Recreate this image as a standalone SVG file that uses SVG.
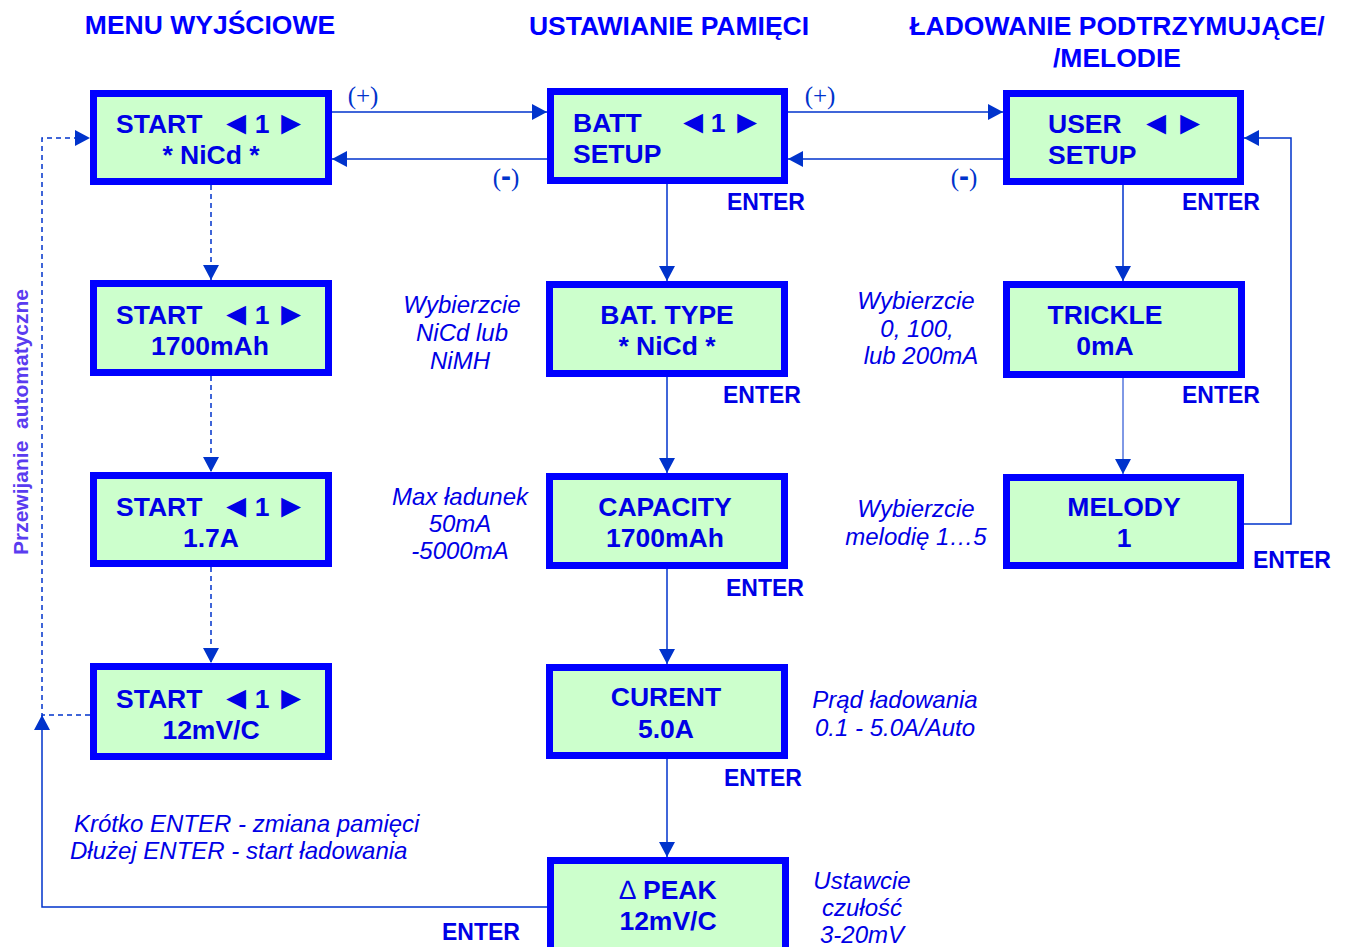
<svg xmlns="http://www.w3.org/2000/svg" width="1348" height="947" viewBox="0 0 1348 947">
<style>
.box{fill:#CCFFCC;stroke:#0000FF;stroke-width:7}
.bt{font-family:"Liberation Sans",Arial,sans-serif;font-weight:bold;font-size:26.5px;fill:#0000E6}
.tri{font-size:33px;font-weight:normal}
.c{text-anchor:middle}
.hd{font-family:"Liberation Sans",Arial,sans-serif;font-weight:bold;font-size:26.5px;fill:#0000FF;text-anchor:middle}
.en{font-family:"Liberation Sans",Arial,sans-serif;font-weight:bold;font-size:23px;fill:#0000E6;text-anchor:middle}
.it{font-family:"Liberation Sans",Arial,sans-serif;font-style:italic;font-size:24px;fill:#0000E6;text-anchor:middle}
.pm{font-family:"Liberation Serif","Times New Roman",serif;font-size:25px;fill:#0033CC;text-anchor:middle}
.ln{fill:none;stroke:#0033CC;stroke-width:1.5}
.dash{stroke-dasharray:5,4}
</style>
<defs>
<marker id="ah" markerUnits="userSpaceOnUse" markerWidth="16" markerHeight="16" viewBox="0 0 16 16" refX="15" refY="8" orient="auto">
<path d="M0,0 L15,8 L0,16 Z" fill="#0033CC"/>
</marker>
</defs>

<g id="headers">
<text class="hd" x="210" y="34">MENU WYJŚCIOWE</text>
<text class="hd" x="669" y="35">USTAWIANIE PAMIĘCI</text>
<text class="hd" x="1117" y="35">ŁADOWANIE PODTRZYMUJĄCE/</text>
<text class="hd" x="1117" y="67">/MELODIE</text>
</g>

<g id="connectors">
<path class="ln" d="M332,112 H547" marker-end="url(#ah)"/>
<path class="ln" d="M547,159 H332" marker-end="url(#ah)"/>
<path class="ln" d="M788,112 H1003" marker-end="url(#ah)"/>
<path class="ln" d="M1003,159 H788" marker-end="url(#ah)"/>
<path class="ln dash" d="M211,185 V280" marker-end="url(#ah)"/>
<path class="ln dash" d="M211,376 V472" marker-end="url(#ah)"/>
<path class="ln dash" d="M211,567 V663" marker-end="url(#ah)"/>
<path class="ln dash" d="M90,715 H42 V138 H90" marker-end="url(#ah)"/>
<path class="ln" d="M547,907 H42 V715" marker-end="url(#ah)"/>
<path class="ln" d="M667,184 V281" marker-end="url(#ah)"/>
<path class="ln" d="M667,377 V473" marker-end="url(#ah)"/>
<path class="ln" d="M667,569 V664" marker-end="url(#ah)"/>
<path class="ln" d="M667,759 V857" marker-end="url(#ah)"/>
<path class="ln" d="M1123,185 V281" marker-end="url(#ah)"/>
<path class="ln" style="stroke-width:1" d="M1123,378 V474" marker-end="url(#ah)"/>
<path class="ln" d="M1244,524 H1291 V138 H1244" marker-end="url(#ah)"/>
<text class="pm" x="363" y="104">(+)</text>
<text class="pm" x="820" y="104">(+)</text>
<text class="pm" x="506" y="186">(<tspan font-family="Liberation Sans,Arial,sans-serif" font-weight="bold" font-size="30">-</tspan>)</text>
<text class="pm" x="964" y="186">(<tspan font-family="Liberation Sans,Arial,sans-serif" font-weight="bold" font-size="30">-</tspan>)</text>
<text class="en" x="766" y="210">ENTER</text>
<text class="en" x="762" y="403">ENTER</text>
<text class="en" x="765" y="596">ENTER</text>
<text class="en" x="763" y="786">ENTER</text>
<text class="en" x="481" y="940">ENTER</text>
<text class="en" x="1221" y="210">ENTER</text>
<text class="en" x="1221" y="403">ENTER</text>
<text class="en" x="1292" y="568">ENTER</text>
<text transform="translate(28,422) rotate(-90)" text-anchor="middle" font-family="Liberation Sans,Arial,sans-serif" font-weight="bold" font-size="21" fill="#5A3CF0" xml:space="preserve">Przewijanie  automatyczne</text>
</g>

<g id="start-nicd">
<rect class="box" x="93.5" y="93.5" width="235" height="88"/>
<text class="bt"><tspan x="116" y="133">START</tspan><tspan class="tri c" x="236" y="133.5">◄</tspan><tspan class="c" x="262" y="133">1</tspan><tspan class="tri c" x="291" y="133.5">►</tspan></text>
<text class="bt c" x="211" y="164">* NiCd *</text>
</g>
<g id="start-1700">
<rect class="box" x="93.5" y="283.5" width="235" height="89"/>
<text class="bt"><tspan x="116" y="324">START</tspan><tspan class="tri c" x="236" y="324.5">◄</tspan><tspan class="c" x="262" y="324">1</tspan><tspan class="tri c" x="291" y="324.5">►</tspan></text>
<text class="bt c" x="210" y="355">1700mAh</text>
</g>
<g id="start-17a">
<rect class="box" x="93.5" y="475.5" width="235" height="88"/>
<text class="bt"><tspan x="116" y="516">START</tspan><tspan class="tri c" x="236" y="516.5">◄</tspan><tspan class="c" x="262" y="516">1</tspan><tspan class="tri c" x="291" y="516.5">►</tspan></text>
<text class="bt c" x="211" y="547">1.7A</text>
</g>
<g id="start-12mv">
<rect class="box" x="93.5" y="666.5" width="235" height="90"/>
<text class="bt"><tspan x="116" y="708">START</tspan><tspan class="tri c" x="236" y="708.5">◄</tspan><tspan class="c" x="262" y="708">1</tspan><tspan class="tri c" x="291" y="708.5">►</tspan></text>
<text class="bt c" x="211" y="739">12mV/C</text>
</g>

<g id="batt-setup">
<rect class="box" x="550.5" y="91.5" width="234" height="89"/>
<text class="bt"><tspan x="573" y="132">BATT</tspan><tspan class="tri c" x="693" y="132.5">◄</tspan><tspan class="c" x="718" y="132">1</tspan><tspan class="tri c" x="747" y="132.5">►</tspan></text>
<text class="bt" x="573" y="163">SETUP</text>
</g>
<g id="bat-type">
<rect class="box" x="549.5" y="284.5" width="235" height="89"/>
<text class="bt c" x="667" y="324">BAT. TYPE</text>
<text class="bt c" x="667" y="355">* NiCd *</text>
</g>
<g id="capacity">
<rect class="box" x="549.5" y="476.5" width="235" height="89"/>
<text class="bt c" x="665" y="516">CAPACITY</text>
<text class="bt c" x="665" y="547">1700mAh</text>
</g>
<g id="curent">
<rect class="box" x="549.5" y="667.5" width="235" height="88"/>
<text class="bt c" x="666" y="706">CURENT</text>
<text class="bt c" x="666" y="738">5.0A</text>
</g>
<g id="peak">
<rect class="box" x="550.5" y="860.5" width="235" height="90"/>
<text class="bt c" x="668" y="899"><tspan font-weight="normal">∆</tspan> PEAK</text>
<text class="bt c" x="668" y="930">12mV/C</text>
</g>

<g id="user-setup">
<rect class="box" x="1006.5" y="93.5" width="234" height="88"/>
<text class="bt"><tspan x="1048" y="133">USER</tspan><tspan class="tri c" x="1156" y="133.5">◄</tspan><tspan class="tri c" x="1190" y="133.5">►</tspan></text>
<text class="bt" x="1048" y="164">SETUP</text>
</g>
<g id="trickle">
<rect class="box" x="1006.5" y="284.5" width="235" height="90"/>
<text class="bt c" x="1105" y="324">TRICKLE</text>
<text class="bt c" x="1105" y="355">0mA</text>
</g>
<g id="melody">
<rect class="box" x="1006.5" y="477.5" width="234" height="88"/>
<text class="bt c" x="1124" y="516">MELODY</text>
<text class="bt c" x="1124" y="547">1</text>
</g>

<g id="notes">
<text class="it" x="462" y="313">Wybierzcie</text>
<text class="it" x="462" y="341">NiCd lub</text>
<text class="it" x="460" y="369">NiMH</text>
<text class="it" x="460" y="505">Max ładunek</text>
<text class="it" x="460" y="532">50mA</text>
<text class="it" x="460" y="559">-5000mA</text>
<text class="it" x="916" y="309">Wybierzcie</text>
<text class="it" x="917" y="337">0, 100,</text>
<text class="it" x="921" y="364">lub 200mA</text>
<text class="it" x="916" y="517">Wybierzcie</text>
<text class="it" x="916" y="545">melodię 1…5</text>
<text class="it" x="895" y="708">Prąd ładowania</text>
<text class="it" x="895" y="736">0.1 - 5.0A/Auto</text>
<text class="it" x="862" y="889">Ustawcie</text>
<text class="it" x="862" y="916">czułość</text>
<text class="it" x="862" y="943">3-20mV</text>
<text class="it" x="74" y="832" style="text-anchor:start">Krótko ENTER - zmiana pamięci</text>
<text class="it" x="70" y="859" style="text-anchor:start">Dłużej ENTER - start ładowania</text>
</g>
</svg>
